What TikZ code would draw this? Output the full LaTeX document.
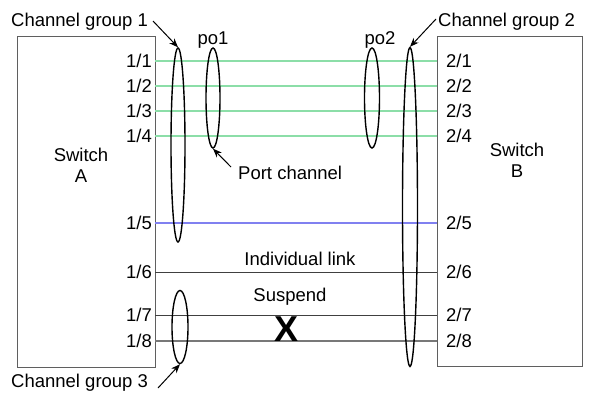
\documentclass[tikz,border=0pt]{standalone}
\usepackage{fontspec}
\setmainfont{Liberation Sans}
\usetikzlibrary{shapes.geometric,arrows.meta}
\definecolor{lgreen}{RGB}{140,222,168}
\definecolor{lblue}{RGB}{128,128,240}
\definecolor{bordergray}{RGB}{95,95,95}
\definecolor{linegray}{RGB}{120,120,120}
\begin{document}
\begin{tikzpicture}[x=1pt,y=-1pt,
  every node/.style={font=\fontsize{18.5}{21}\selectfont, inner sep=0pt},
  box/.style={draw=bordergray, line width=1.3pt, rectangle, anchor=north west},
  loop/.style={draw, ellipse, line width=1.4pt, inner sep=0pt},
  greenlink/.style={draw=lgreen, line width=1.3pt},
  bluelink/.style={draw=lblue, line width=1.3pt},
  blacklink/.style={draw=black!75, line width=0.9pt},
  graylink/.style={draw=linegray, line width=1.8pt},
  pointer/.style={-{Stealth[length=9pt,width=7pt]}, line width=1pt}]
\useasboundingbox (0,0) rectangle (590,394);
\fill[white] (0,0) rectangle (590,394);
% switches
\node[box, minimum width=138, minimum height=331] (A) at (17,36) {};
\node[box, minimum width=145, minimum height=330] (B) at (437,36) {};
\node[align=center] (swA) at (81,165) {Switch\\A};
\node[align=center] (swB) at (517,160) {Switch\\B};
% port coordinates
\foreach \i/\y in {1/61,2/86,3/111,4/136,5/223,6/272,7/315,8/341}{
  \coordinate (a\i) at (155,\y);
  \coordinate (b\i) at (437,\y);
  \node[anchor=east] (la\i) at (152,\y) {1/\i};
  \node[anchor=west] (lb\i) at (446,\y) {2/\i};
}
% links
\foreach \i in {1,2,3,4}{ \draw[greenlink] (a\i) -- (b\i); }
\draw[bluelink] (a5) -- (b5);
\draw[blacklink] (a6) -- (b6);
\draw[blacklink] (a7) -- (b7);
\draw[graylink] (a8) -- (b8);
% loops
\node[loop, minimum width=14, minimum height=194] (cg1) at (178,145) {};
\node[loop, minimum width=14, minimum height=100] (po1) at (213,98) {};
\node[loop, minimum width=15, minimum height=100] (po2) at (372,98) {};
\node[loop, minimum width=15, minimum height=319] (cg2) at (410,207) {};
\node[loop, minimum width=16, minimum height=73] (cg3) at (180,327) {};
% labels
\node[anchor=west] (t1) at (11,22) {Channel group 1};
\node[anchor=west] (t2) at (438,22) {Channel group 2};
\node[anchor=west] (t3) at (11,383) {Channel group 3};
\node (tpo1) at (213,40) {po1};
\node (tpo2) at (380,40) {po2};
\node[anchor=west] (tpc) at (238,173) {Port channel};
\node (til) at (300,259) {Individual link};
\node (tsu) at (290,297) {Suspend};
\node[font=\fontsize{36}{36}\bfseries\selectfont] (X) at (287,329) {X};
% pointers
\coordinate (p1s) at (153,21);
\coordinate (p2s) at (436,19);
\coordinate (p3s) at (158,388);
\coordinate (pps) at (231,167);
\draw[pointer] (p1s) -- (cg1.north);
\draw[pointer] (p2s) -- (cg2.north);
\draw[pointer] (p3s) -- (cg3.south);
\draw[pointer] (pps) -- (po1.south);
\end{tikzpicture}
\end{document}
